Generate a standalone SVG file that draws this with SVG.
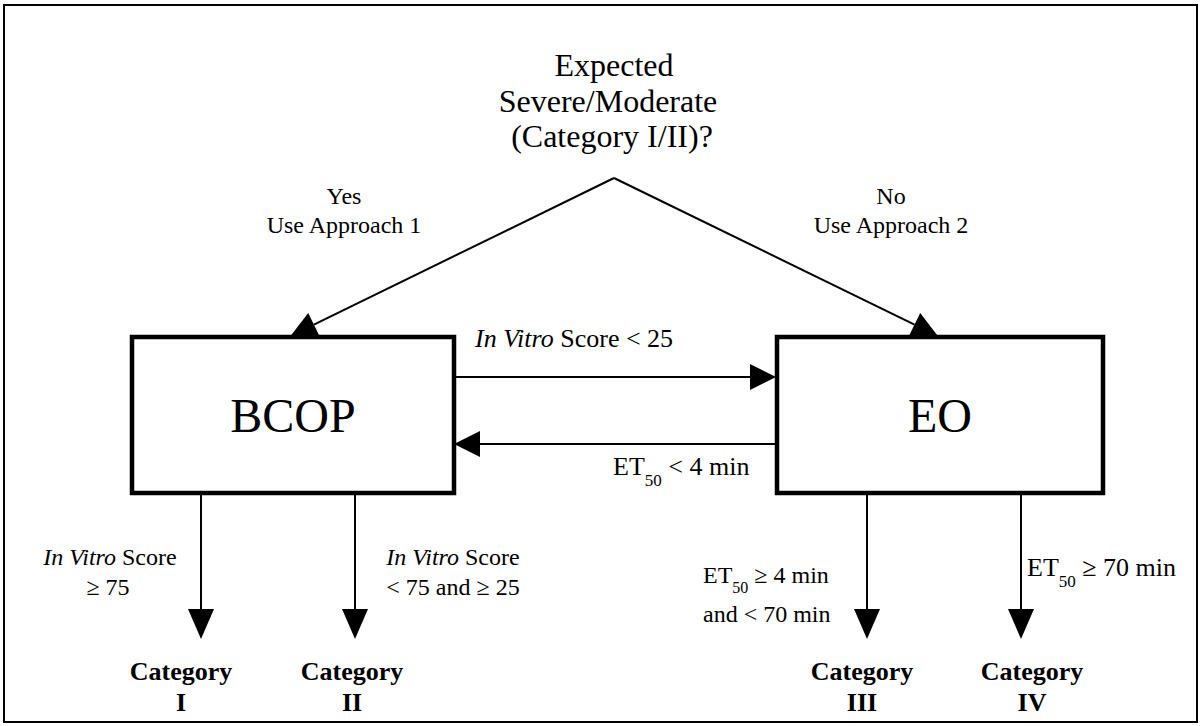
<svg xmlns="http://www.w3.org/2000/svg" width="1201" height="726" viewBox="0 0 1201 726">
<style>
.t{font-family:"Liberation Serif","Times New Roman",serif;fill:#000}
.s24{font-size:24px}
.s26{font-size:26px}
.b{font-weight:bold;font-size:26px}
.big{font-size:48px}
.title{font-size:32px}
.c{stroke:#000;stroke-width:2;fill:none}
.box{fill:#fff;stroke:#000;stroke-width:4.5}
</style>
<defs>
<marker id="ah" markerUnits="userSpaceOnUse" markerWidth="26" markerHeight="26" viewBox="0 0 26 26" refX="0" refY="13" orient="auto" overflow="visible">
<path d="M0,0 L26,13 L0,26 z" fill="#000"/>
</marker>
<marker id="ahv" markerUnits="userSpaceOnUse" markerWidth="30" markerHeight="26" viewBox="0 0 30 26" refX="0" refY="13" orient="auto" overflow="visible">
<path d="M0,0 L30,13 L0,26 z" fill="#000"/>
</marker>
</defs>
<rect x="0" y="0" width="1201" height="726" fill="#fff"/>
<rect x="4" y="5" width="1193" height="717" fill="none" stroke="#000" stroke-width="2"/>

<g id="question">
<text class="t title" x="614" y="76" text-anchor="middle">Expected</text>
<text class="t title" x="608" y="112" text-anchor="middle">Severe/Moderate</text>
<text class="t title" x="612" y="147" text-anchor="middle">(Category I/II)?</text>
</g>

<g id="connectors">
<path class="c" d="M614,178 L313.9,324.6" marker-end="url(#ah)"/>
<path class="c" d="M614,178 L914.5,324.6" marker-end="url(#ah)"/>
<path class="c" d="M455,377 L750,377" marker-end="url(#ah)"/>
<path class="c" d="M775,444 L480,444" marker-end="url(#ah)"/>
<path class="c" d="M201,494 L201,609" marker-end="url(#ahv)"/>
<path class="c" d="M355,494 L355,609" marker-end="url(#ahv)"/>
<path class="c" d="M867,494 L867,609" marker-end="url(#ahv)"/>
<path class="c" d="M1021,494 L1021,609" marker-end="url(#ahv)"/>
<text class="t s24" x="344" y="204" text-anchor="middle">Yes</text>
<text class="t s24" x="344" y="233" text-anchor="middle">Use Approach 1</text>
<text class="t s24" x="891" y="204" text-anchor="middle">No</text>
<text class="t s24" x="891" y="233" text-anchor="middle">Use Approach 2</text>
<text class="t s26" x="475" y="347"><tspan font-style="italic">In Vitro</tspan> Score &lt; 25</text>
<text class="t s26" x="613" y="475">ET<tspan dy="11" font-size="17">50</tspan><tspan dy="-11"> &lt; 4 min</tspan></text>
<text class="t s24" x="110" y="565" text-anchor="middle"><tspan font-style="italic">In Vitro</tspan> Score</text>
<text class="t s24" x="108" y="595" text-anchor="middle">≥ 75</text>
<text class="t s24" x="453" y="565" text-anchor="middle"><tspan font-style="italic">In Vitro</tspan> Score</text>
<text class="t s24" x="453" y="595" text-anchor="middle">&lt; 75 and ≥ 25</text>
<text class="t s24" x="703" y="583">ET<tspan dy="10" font-size="16">50</tspan><tspan dy="-10"> ≥ 4 min</tspan></text>
<text class="t s24" x="703" y="622">and &lt; 70 min</text>
<text class="t s26" x="1027" y="576">ET<tspan dy="11" font-size="17">50</tspan><tspan dy="-11"> ≥ 70 min</tspan></text>
</g>

<g id="bcop">
<rect class="box" x="132" y="337" width="322" height="156"/>
<text class="t big" x="293" y="432" text-anchor="middle">BCOP</text>
</g>
<g id="eo">
<rect class="box" x="777" y="337" width="326" height="156"/>
<text class="t big" x="940" y="432" text-anchor="middle">EO</text>
</g>

<g id="cat1"><text class="t b" x="181" y="680" text-anchor="middle">Category</text><text class="t b" x="181" y="711" text-anchor="middle">I</text></g>
<g id="cat2"><text class="t b" x="352" y="680" text-anchor="middle">Category</text><text class="t b" x="352" y="711" text-anchor="middle">II</text></g>
<g id="cat3"><text class="t b" x="862" y="680" text-anchor="middle">Category</text><text class="t b" x="862" y="711" text-anchor="middle">III</text></g>
<g id="cat4"><text class="t b" x="1032" y="680" text-anchor="middle">Category</text><text class="t b" x="1032" y="711" text-anchor="middle">IV</text></g>
</svg>
